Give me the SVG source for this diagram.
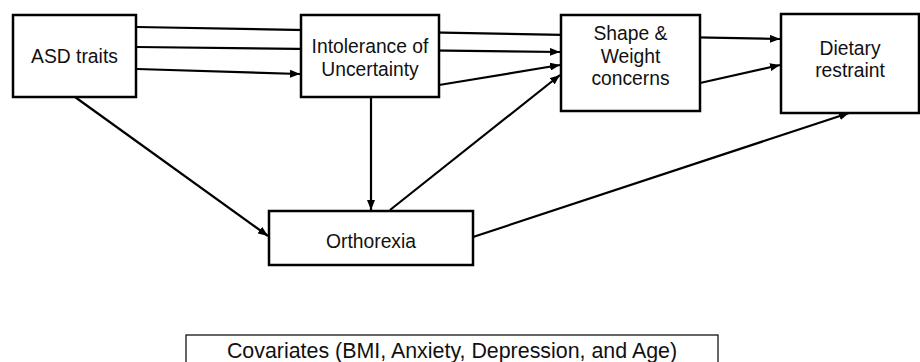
<svg xmlns="http://www.w3.org/2000/svg" width="920" height="362" viewBox="0 0 920 362">
<style>
.box{fill:#fff;stroke:#000;stroke-width:2.5}
.cov{fill:#fff;stroke:#000;stroke-width:1.2}
.t{font-family:"Liberation Sans",Arial,Helvetica,sans-serif;font-size:19.3px;fill:#111;text-anchor:middle}
.tc{font-family:"Liberation Sans",Arial,Helvetica,sans-serif;font-size:21.4px;fill:#111;text-anchor:middle}
.c{fill:none;stroke:#000;stroke-width:2.2;marker-end:url(#ah)}
</style>
<defs>
<marker id="ah" viewBox="0 0 10 8" refX="10" refY="4" markerWidth="10" markerHeight="8" markerUnits="userSpaceOnUse" orient="auto">
<path d="M0,0 L10,4 L0,8 Z" fill="#000"/>
</marker>
</defs>
<g id="connectors">
<line class="c" x1="137" y1="27" x2="780" y2="39"/>
<line class="c" x1="137" y1="47" x2="560" y2="52"/>
<line class="c" x1="137" y1="69" x2="300" y2="74"/>
<line class="c" x1="439" y1="85" x2="560" y2="65"/>
<line class="c" x1="700" y1="83" x2="780" y2="65"/>
<line class="c" x1="371" y1="97" x2="371" y2="210"/>
<line class="c" x1="390" y1="210" x2="560" y2="75"/>
<line class="c" x1="75" y1="97" x2="268" y2="236"/>
<line class="c" x1="473" y1="237" x2="849" y2="113"/>
</g>
<g id="asd">
<rect class="box" x="13" y="15" width="123" height="82"/>
<text class="t" x="74.5" y="63">ASD traits</text>
</g>
<g id="iu">
<rect class="box" x="301" y="15" width="138" height="82"/>
<text class="t" x="370" y="53">Intolerance of</text>
<text class="t" x="370" y="76">Uncertainty</text>
</g>
<g id="sw">
<rect class="box" x="561" y="15" width="139" height="96"/>
<text class="t" x="630.5" y="40">Shape &amp;</text>
<text class="t" x="630.5" y="63">Weight</text>
<text class="t" x="630.5" y="85">concerns</text>
</g>
<g id="dr">
<rect class="box" x="781" y="14" width="138" height="99"/>
<text class="t" x="850" y="55">Dietary</text>
<text class="t" x="850" y="77">restraint</text>
</g>
<g id="orth">
<rect class="box" x="269" y="211" width="204" height="54"/>
<text class="t" x="371" y="248">Orthorexia</text>
</g>
<g id="cov">
<rect class="cov" x="186" y="335" width="532" height="40"/>
<text class="tc" x="452" y="358">Covariates (BMI, Anxiety, Depression, and Age)</text>
</g>
</svg>
